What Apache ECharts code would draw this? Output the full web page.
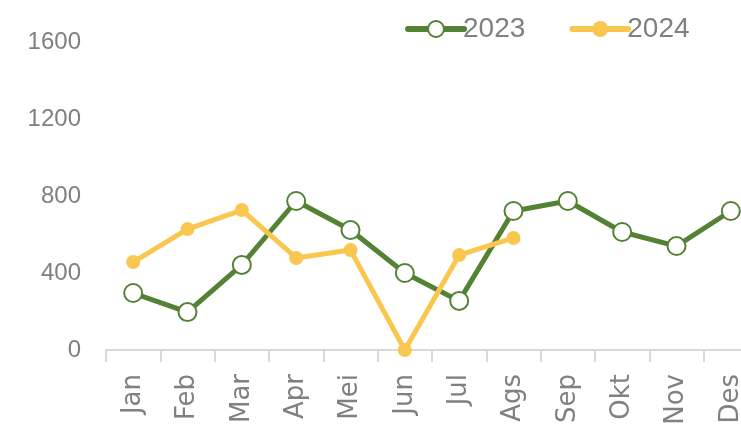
<!DOCTYPE html>
<html><head><meta charset="utf-8">
<script src="https://cdn.jsdelivr.net/npm/echarts@6/dist/echarts.min.js"></script>
<style>html,body{margin:0;padding:0;background:#fff}#c{width:741px;height:425px}</style>
</head><body><div id="c"></div>
<script>
const categories = ['Jan','Feb','Mar','Apr','Mei','Jun','Jul','Ags','Sep','Okt','Nov','Des'];
const values2023 = [296, 197, 442, 774, 623, 400, 255, 722, 774, 613, 540, 722];
const values2024 = [457, 628, 727, 478, 519, 0, 493, 582];
const yTicks = [0, 400, 800, 1200, 1600];

const green = '#548235';
const yellow = '#F9C74F';
const chart = echarts.init(document.getElementById('c'), null, {renderer:'canvas'});
chart.setOption({
  animation: false,
  backgroundColor: '#fff',
  grid: {left: 106, right: -17, top: 42, bottom: 75, containLabel: false, outerBoundsMode: 'none'},
  legend: {
    left: 400, top: 10,
    itemWidth: 56, itemHeight: 20, itemGap: 44,
    lineStyle: {width: 6, cap: 'round'},
    textStyle: {fontFamily: 'Liberation Sans', fontSize: 28, color: '#808080', padding: [0,0,0,-6]},
    data: ['2023', '2024']
  },
  xAxis: {
    type: 'category', data: categories, boundaryGap: true,
    axisLine: {lineStyle: {color: '#D9D9D9', width: 2}},
    axisTick: {show: true, length: 12, lineStyle: {color: '#D9D9D9', width: 2}},
    axisLabel: {rotate: 90, margin: 24, fontFamily: 'DejaVu Sans', fontSize: 26, color: '#808080'}
  },
  yAxis: {
    type: 'value', min: yTicks[0], max: yTicks[yTicks.length-1], interval: 400,
    axisLine: {show: false}, axisTick: {show: false}, splitLine: {show: false},
    axisLabel: {margin: 25, fontFamily: 'Liberation Sans', fontSize: 24, color: '#808080', formatter: v => String(v)}
  },
  series: [
    {
      name: '2023', type: 'line', data: values2023,
      symbol: 'circle', symbolSize: 18,
      lineStyle: {color: green, width: 5},
      itemStyle: {color: '#fff', borderColor: green, borderWidth: 2},
      z: 2
    },
    {
      name: '2024', type: 'line', data: values2024,
      symbol: 'circle', symbolSize: 14,
      lineStyle: {color: yellow, width: 5},
      itemStyle: {color: yellow},
      z: 3
    }
  ]
});
</script></body></html>
